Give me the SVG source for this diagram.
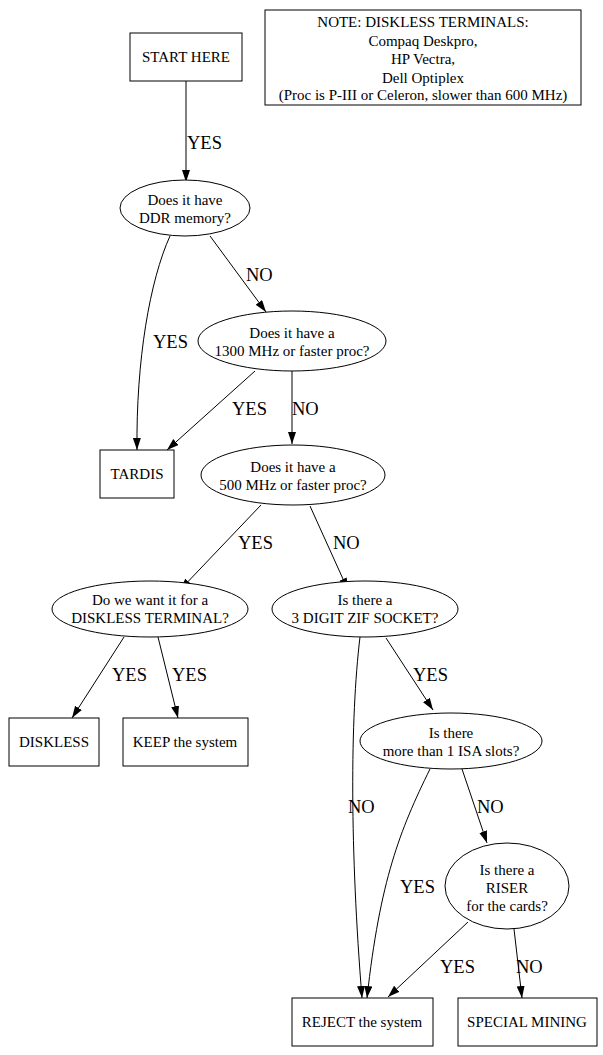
<svg xmlns="http://www.w3.org/2000/svg" width="603" height="1055" viewBox="0 0 603 1055">
<style>
.n{fill:#fff;stroke:#000;stroke-width:1}
.t{font-family:"Liberation Serif","Times New Roman",serif;font-size:15px;text-anchor:middle;fill:#000}
.l{font-family:"Liberation Serif","Times New Roman",serif;font-size:18.5px;fill:#000}
.e{fill:none;stroke:#000;stroke-width:1}
</style>
<defs>
<marker id="a" markerUnits="userSpaceOnUse" markerWidth="13" markerHeight="10" refX="12" refY="4" orient="auto">
<path d="M0,0 L12,4 L0,8 Z" fill="#000"/>
</marker>
</defs>
<rect width="603" height="1055" fill="#fff"/>
<g id="connectors">
<path class="e" marker-end="url(#a)" d="M186,81 L186,182"/>
<path class="e" marker-end="url(#a)" d="M170,236 C150,280 136,360 137,450"/>
<path class="e" marker-end="url(#a)" d="M210,236 L266,312"/>
<path class="e" marker-end="url(#a)" d="M255,371 L167,450"/>
<path class="e" marker-end="url(#a)" d="M292,371 L292,444"/>
<path class="e" marker-end="url(#a)" d="M261,505 L180,590"/>
<path class="e" marker-end="url(#a)" d="M310,506 L348,590"/>
<path class="e" marker-end="url(#a)" d="M124,637 L72,718"/>
<path class="e" marker-end="url(#a)" d="M158,637 L178,718"/>
<path class="e" marker-end="url(#a)" d="M360,637 C350,720 350,850 362,998"/>
<path class="e" marker-end="url(#a)" d="M386,638 L433,710"/>
<path class="e" marker-end="url(#a)" d="M430,769 C400,830 380,880 367,998"/>
<path class="e" marker-end="url(#a)" d="M462,769 L487,843"/>
<path class="e" marker-end="url(#a)" d="M468,922 L388,997"/>
<path class="e" marker-end="url(#a)" d="M514,929 L522,998"/>
<text class="l" x="187" y="149">YES</text>
<text class="l" x="153" y="348">YES</text>
<text class="l" x="246" y="281">NO</text>
<text class="l" x="232" y="415">YES</text>
<text class="l" x="292" y="415">NO</text>
<text class="l" x="238" y="549">YES</text>
<text class="l" x="333" y="549">NO</text>
<text class="l" x="112" y="681">YES</text>
<text class="l" x="172" y="681">YES</text>
<text class="l" x="348" y="813">NO</text>
<text class="l" x="413" y="681">YES</text>
<text class="l" x="400" y="893">YES</text>
<text class="l" x="477" y="813">NO</text>
<text class="l" x="440" y="973">YES</text>
<text class="l" x="516" y="973">NO</text>
</g>
<g id="note">
<rect class="n" x="265" y="10" width="316" height="95"/>
<text class="t" x="423" y="27">NOTE: DISKLESS TERMINALS:</text>
<text class="t" x="423" y="46">Compaq Deskpro,</text>
<text class="t" x="423" y="64">HP Vectra,</text>
<text class="t" x="423" y="83">Dell Optiplex</text>
<text class="t" x="423" y="100">(Proc is P-III or Celeron, slower than 600 MHz)</text>
</g>
<g id="start">
<rect class="n" x="130" y="33" width="112" height="48"/>
<text class="t" x="186" y="62">START HERE</text>
</g>
<g id="ddr">
<ellipse class="n" cx="185" cy="208" rx="65" ry="28"/>
<text class="t" x="185" y="205">Does it have</text>
<text class="t" x="185" y="223">DDR memory?</text>
</g>
<g id="p1300">
<ellipse class="n" cx="292" cy="341" rx="94" ry="30"/>
<text class="t" x="292" y="338">Does it have a</text>
<text class="t" x="292" y="356">1300 MHz or faster proc?</text>
</g>
<g id="tardis">
<rect class="n" x="100" y="450" width="74" height="48"/>
<text class="t" x="137" y="479">TARDIS</text>
</g>
<g id="p500">
<ellipse class="n" cx="293" cy="475" rx="92" ry="30"/>
<text class="t" x="293" y="472">Does it have a</text>
<text class="t" x="293" y="490">500 MHz or faster proc?</text>
</g>
<g id="want">
<ellipse class="n" cx="150" cy="609" rx="98" ry="28"/>
<text class="t" x="150" y="605">Do we want it for a</text>
<text class="t" x="150" y="623">DISKLESS TERMINAL?</text>
</g>
<g id="zif">
<ellipse class="n" cx="365" cy="609" rx="93" ry="28"/>
<text class="t" x="365" y="605">Is there a</text>
<text class="t" x="365" y="623">3 DIGIT ZIF SOCKET?</text>
</g>
<g id="diskless">
<rect class="n" x="9" y="718" width="90" height="48"/>
<text class="t" x="54" y="747">DISKLESS</text>
</g>
<g id="keep">
<rect class="n" x="123" y="718" width="125" height="48"/>
<text class="t" x="185" y="747">KEEP the system</text>
</g>
<g id="isa">
<ellipse class="n" cx="451" cy="741" rx="91" ry="28"/>
<text class="t" x="451" y="738">Is there</text>
<text class="t" x="451" y="756">more than 1 ISA slots?</text>
</g>
<g id="riser">
<ellipse class="n" cx="507" cy="886" rx="62" ry="43"/>
<text class="t" x="507" y="875">Is there a</text>
<text class="t" x="507" y="893">RISER</text>
<text class="t" x="507" y="911">for the cards?</text>
</g>
<g id="reject">
<rect class="n" x="292" y="998" width="141" height="48"/>
<text class="t" x="362" y="1027">REJECT the system</text>
</g>
<g id="special">
<rect class="n" x="458" y="998" width="139" height="48"/>
<text class="t" x="527" y="1027">SPECIAL MINING</text>
</g>
</svg>
